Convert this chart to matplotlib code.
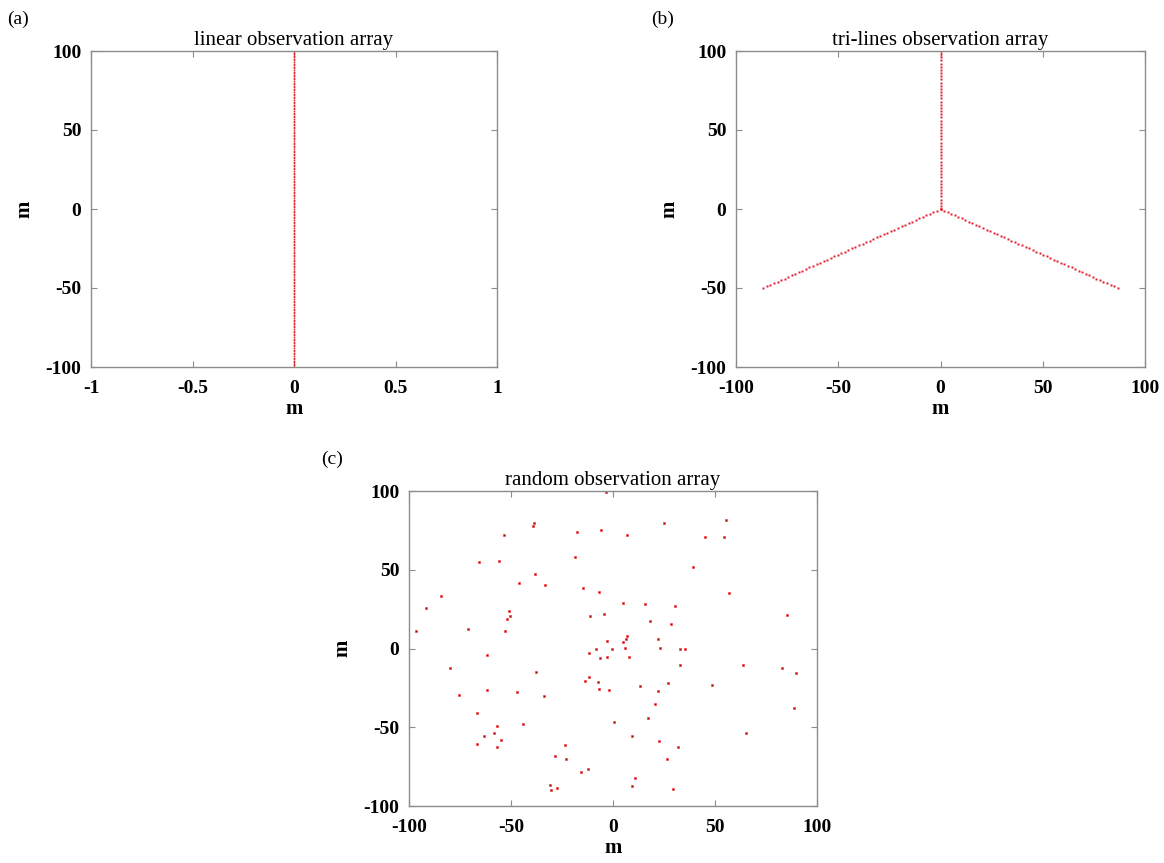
import matplotlib
matplotlib.use("Agg")
import matplotlib.pyplot as plt
import numpy as np

plt.rcParams['font.family'] = ['Liberation Serif', 'DejaVu Serif']
plt.rcParams['axes.unicode_minus'] = False

# (a) linear array: receivers every 1 m along x = 0
lin_y = np.arange(-100, 101, 1)
lin_x = np.zeros_like(lin_y)

# (b) three arms of 100 m at 90, 210 and 330 degrees, receivers every 2 m
arm_r = np.arange(0, 101, 2)
arm_angles = [90, 210, 330]

# (c) random array
rand_x = [-3.6, -38.6, -39.4, -53.3, -17.5, -6.0, 25.1, 55.4, 7.0, 44.9, 54.2,
          -18.6, -65.8, -55.9, 39.2, -38.2, -46.1, -33.5, -14.6, -6.9, 56.7,
          -84.5, 5.0, 15.8, 30.4, -91.8, -50.8, -50.5, -51.8, -11.3, -4.4,
          85.1, 18.1, 28.4, -96.7, -70.9, -53.1, 7.0, 6.4, -2.8, 5.0, 22.2,
          -8.5, -0.5, 6.0, 23.2, 32.8, 35.3, -61.9, -11.6, -6.4, -3.1, 7.8,
          -79.9, -37.6, 33.0, 63.9, 82.8, 89.9, -13.7, -11.6, -7.2, -7.0,
          13.4, 27.1, 48.5, -2.1, 21.9, -75.3, -61.9, -47.1, -34.0, 20.4,
          88.6, -66.7, 17.2, 0.3, -44.3, -56.7, -63.2, -58.2, -54.8, 9.5,
          65.0, -66.5, -56.7, -23.7, 22.7, 32.0, -28.6, -22.9, 26.6, -15.7,
          -12.4, 10.8, -30.7, -30.2, -27.3, 9.5, 29.6]
rand_y = [99.5, 79.7, 77.5, 71.8, 73.7, 75.1, 79.7, 81.6, 72.0, 70.5, 70.5,
          58.2, 54.9, 55.7, 51.7, 47.3, 41.8, 40.1, 38.6, 35.7, 35.4,
          33.2, 28.9, 28.3, 27.0, 25.6, 23.9, 20.7, 18.8, 20.9, 22.2,
          21.3, 17.3, 15.6, 10.8, 12.5, 10.8, 8.2, 6.1, 4.9, 4.1, 5.9,
          -0.2, -0.2, 0.6, 0.6, -0.2, -0.2, -4.0, -2.9, -6.1, -5.4, -5.3,
          -12.4, -15.0, -10.3, -10.5, -12.4, -15.4, -20.9, -17.9, -21.5, -25.5,
          -24.0, -22.2, -23.2, -26.1, -27.0, -29.3, -26.6, -27.6, -30.1, -35.2,
          -37.5, -40.7, -43.9, -46.4, -47.7, -49.4, -55.3, -53.8, -57.8, -55.3,
          -53.4, -60.9, -62.4, -61.4, -58.9, -62.8, -68.4, -70.3, -70.4, -78.2,
          -76.3, -82.5, -86.7, -89.6, -88.4, -87.5, -89.2]

titles = ["linear observation array", "tri-lines observation array",
          "random observation array"]
panel_tags = ["(a)", "(b)", "(c)"]

W, H = 1164, 863
fig = plt.figure(figsize=(W / 100, H / 100), dpi=100)


def make_axes(x0, x1, y0, y1):
    # pixel box -> figure fraction
    return fig.add_axes([x0 / W, 1 - y1 / H, (x1 - x0) / W, (y1 - y0) / H])


def style(ax, title):
    for s in ax.spines.values():
        s.set_color('#8c8c8c')
        s.set_linewidth(1.0)
    ax.tick_params(direction='in', top=True, right=True, length=4,
                   color='#8c8c8c', labelsize=14)
    ax.tick_params(axis='x', pad=9)
    ax.tick_params(axis='y', pad=7)
    for lab in ax.get_xticklabels() + ax.get_yticklabels():
        lab.set_fontweight('bold')
    ax.set_xlabel('m', fontsize=15, fontweight='bold', labelpad=2)
    ax.set_ylabel('m', fontsize=15, fontweight='bold', labelpad=8)
    ax.set_title(title, fontsize=15, pad=4)


fine = dict(ls='none', marker='s', ms=1.1, mec='none', mfc='#e8202a')

# (a)
ax1 = make_axes(91, 497, 51, 367)
ax1.plot(lin_x, lin_y, **fine)
ax1.set_xlim(-1, 1)
ax1.set_ylim(-100, 100)
ax1.set_xticks([-1, -0.5, 0, 0.5, 1])
ax1.set_xticklabels(['-1', '-0.5', '0', '0.5', '1'])
ax1.set_yticks([-100, -50, 0, 50, 100])
style(ax1, titles[0])

# (b)
ax2 = make_axes(736, 1145, 51, 367)
for ang in arm_angles:
    t = np.deg2rad(ang)
    ax2.plot(arm_r * np.cos(t), arm_r * np.sin(t), ls='none', marker='s',
             ms=1.5, mec='none', mfc='#e02030')
ax2.set_xlim(-100, 100)
ax2.set_ylim(-100, 100)
ax2.set_xticks([-100, -50, 0, 50, 100])
ax2.set_yticks([-100, -50, 0, 50, 100])
style(ax2, titles[1])

# (c)
ax3 = make_axes(409, 817, 491, 806)
ax3.plot(rand_x, rand_y, ls='none', marker='s', ms=1.8, mec='#ff3030',
         mfc='#a01010', mew=0.4)
ax3.set_xlim(-100, 100)
ax3.set_ylim(-100, 100)
ax3.set_xticks([-100, -50, 0, 50, 100])
ax3.set_yticks([-100, -50, 0, 50, 100])
style(ax3, titles[2])

# panel tags
for tag, (px, py) in zip(panel_tags, [(7, 11), (651, 11), (321, 451)]):
    fig.text(px / W, 1 - py / H, tag, fontsize=14, ha='left', va='top')

fig.savefig("out.png", dpi=100)
